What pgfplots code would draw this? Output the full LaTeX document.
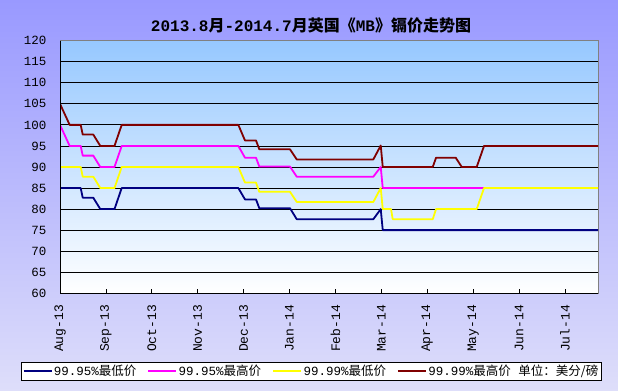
\documentclass[border=0pt]{standalone}
\usepackage{pgfplots}
\pgfplotsset{compat=1.18}
\usepackage{fontspec}
\setmainfont{Liberation Mono}
\newfontfamily\cjk{Noto Sans CJK SC}
\definecolor{bgtop}{RGB}{153,153,255}
\definecolor{bgbot}{RGB}{222,222,250}
\definecolor{pltop}{RGB}{150,200,255}
\definecolor{sNavy}{RGB}{0,0,128}
\definecolor{sMag}{RGB}{255,0,255}
\definecolor{sYel}{RGB}{255,255,0}
\definecolor{sRed}{RGB}{128,0,0}
\begin{document}
\begin{tikzpicture}
\useasboundingbox (0,0) rectangle (618bp,391bp);
\shade[top color=bgtop, bottom color=bgbot] (0,0) rectangle (618bp,391bp);
\node[font=\fontsize{16bp}{16bp}\selectfont\bfseries] at (311bp,365.5bp) {2013.8{\cjk 月}-2014.7{\cjk 月英国《}MB{\cjk 》镉价走势图}};
\begin{axis}[
  at={(60bp,97.7bp)}, anchor=south west,
  width=538bp, height=252.6bp, scale only axis,
  xmin=0, xmax=11.72, ymin=60, ymax=120,
  ytick={60,65,...,120},
  xtick={0,...,11},
  xticklabels={Aug-13,Sep-13,Oct-13,Nov-13,Dec-13,Jan-14,Feb-14,Mar-14,Apr-14,May-14,Jun-14,Jul-14},
  ymajorgrids, grid style={black, line width=0.8bp},
  axis line style={draw=gray, line width=0.8bp},
  axis background/.style={top color=pltop, bottom color=white},
  ytick style={draw=none},
  xtick style={black, line width=0.8bp}, major tick length=4bp,
  tick align=inside, xtick pos=left, ytick pos=left,
  /pgf/number format/assume math mode=true,
  yticklabel style={font=\fontsize{12.5bp}{12.5bp}\selectfont, inner sep=0pt, anchor=east, xshift=-13.3bp},
  xticklabel style={font=\fontsize{13bp}{13bp}\selectfont, rotate=90, anchor=east, inner sep=0pt},
  xticklabel shift=11.5bp,
  legend columns=4,
  legend style={at={(axis description cs:-0.073,-0.309)}, anchor=west, draw=black, line width=0.8bp, fill=white,
     font=\fontsize{12.5bp}{12.5bp}\selectfont, inner sep=1.5bp,
     /tikz/every even column/.append style={column sep=9.5bp}, nodes={inner sep=1.5bp}},
  legend image code/.code={\draw[#1, line width=1.8bp] (0bp,0bp) -- (28bp,0bp);},
  after end axis/.code={\draw[black, line width=0.8bp] (rel axis cs:0,1) -- (rel axis cs:0,0) -- (rel axis cs:1,0);},
]
\addplot[sNavy, line width=1.8bp, no markers, line join=round] coordinates {
(0,85) (0.451,85) (0.495,82.7) (0.725,82.7) (0.878,80) (1.187,80) (1.344,85) (3.885,85) (4.03,82.3) (4.27,82.3) (4.342,80.2) (5.011,80.2) (5.157,77.6) (6.826,77.6) (6.987,80) (7.031,75) (11.72,75)};
\addlegendentry{99.95\%{\cjk 最低价}}
\addplot[sMag, line width=1.8bp, no markers, line join=round] coordinates {
(0,100) (0.211,95) (0.451,95) (0.495,92.7) (0.725,92.7) (0.878,90) (1.187,90) (1.344,95) (3.885,95) (4.03,92.2) (4.27,92.2) (4.342,90.1) (5.011,90.1) (5.157,87.7) (6.826,87.7) (6.987,90) (7.031,85) (11.72,85)};
\addlegendentry{99.95\%{\cjk 最高价}}
\addplot[sYel, line width=1.8bp, no markers, line join=round] coordinates {
(0,90) (0.451,90) (0.495,87.7) (0.725,87.7) (0.878,85) (1.187,85) (1.344,90) (3.885,90) (4.03,86.3) (4.27,86.3) (4.342,84.1) (5.011,84.1) (5.157,81.7) (6.826,81.7) (6.987,85) (7.031,80) (7.211,80) (7.248,77.6) (8.12,77.6) (8.192,80) (9.078,80) (9.237,85) (11.72,85)};
\addlegendentry{99.99\%{\cjk 最低价}}
\addplot[sRed, line width=1.8bp, no markers, line join=round] coordinates {
(0,105) (0.211,100) (0.451,100) (0.495,97.7) (0.725,97.7) (0.878,95) (1.187,95) (1.344,100) (3.885,100) (4.03,96.3) (4.27,96.3) (4.342,94.2) (5.011,94.2) (5.157,91.8) (6.826,91.8) (6.987,95.1) (7.031,90) (8.12,90) (8.192,92.2) (8.621,92.2) (8.752,90) (9.078,90) (9.237,95) (11.72,95)};
\addlegendentry{99.99\%{\cjk 最高价} {\cjk 单位：美分/磅}}
\end{axis}
\end{tikzpicture}
\end{document}
